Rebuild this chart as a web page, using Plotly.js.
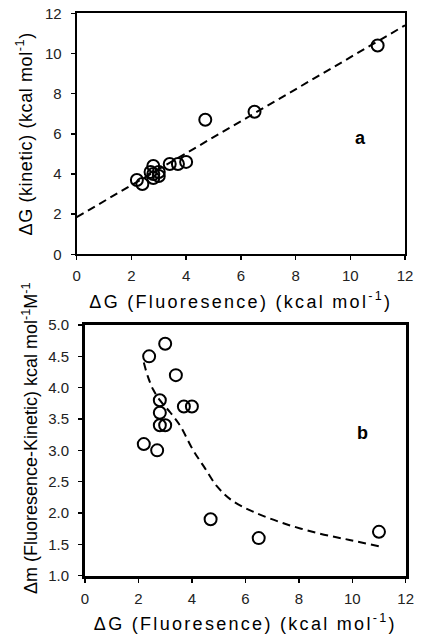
<!DOCTYPE html>
<html>
<head>
<meta charset="utf-8">
<script src="https://cdn.plot.ly/plotly-3.0.1.min.js"></script>
<style>
html,body{margin:0;padding:0;background:#fff;}
#chart{width:421px;height:642px;}
#chart .xtitle, #chart .x2title{letter-spacing:2.3px;}
#chart .ytitle{letter-spacing:0.6px;}
#chart .y2title{translate:0px -12px;}
</style>
</head>
<body>
<div id="chart"></div>
<script>
// Panel a: ΔG kinetic vs ΔG fluorescence
const fluorA = [2.2, 2.4, 2.7, 2.8, 2.8, 2.8, 3.0, 3.0, 3.4, 3.7, 4.0, 4.7, 6.5, 11.0];
const kineticA = [3.7, 3.5, 4.1, 4.4, 4.0, 3.8, 4.1, 3.9, 4.5, 4.5, 4.6, 6.7, 7.1, 10.4];
const fitAx = [0, 12];
const fitAy = [1.85, 11.4];

// Panel b: Δm (Fluorescence - Kinetic) vs ΔG fluorescence
const fluorB = [2.2, 2.4, 2.7, 2.8, 2.8, 2.8, 3.0, 3.0, 3.4, 3.7, 4.0, 4.7, 6.5, 11.0];
const dmB = [3.1, 4.5, 3.0, 3.8, 3.6, 3.4, 3.4, 4.7, 4.2, 3.7, 3.7, 1.9, 1.6, 1.7];
const curveBx = [2.2, 2.35, 2.55, 2.8, 3.2, 3.55, 4.05, 4.45, 4.95, 5.5, 6.3, 7.4, 8.7, 9.9, 11.0];
const curveBy = [4.4, 4.18, 3.97, 3.80, 3.6, 3.4, 3.0, 2.74, 2.42, 2.2, 2.02, 1.84, 1.68, 1.57, 1.47];

const xTitle = 'ΔG (Fluoresence) (kcal mol<sup>-1</sup>)';
const yTitleA = 'ΔG (kinetic) (kcal mol<sup>-1</sup>)';
const yTitleB = 'Δm (Fluoresence-Kinetic) kcal mol<sup>-1</sup>M<sup>-1</sup>';
const panelLabels = ['a', 'b'];

const W = 421, H = 642;
const font = 'Liberation Sans, Arial, sans-serif';

const markerStyle = {symbol: 'circle-open', size: 12, color: '#000', line: {width: 2, color: '#000'}};
const dashStyle = {color: '#000', width: 2, dash: '8px,5px'};

const traces = [
  {x: fitAx, y: fitAy, type: 'scatter', mode: 'lines', line: dashStyle, xaxis: 'x', yaxis: 'y', hoverinfo: 'skip'},
  {x: fluorA, y: kineticA, type: 'scatter', mode: 'markers', marker: markerStyle, xaxis: 'x', yaxis: 'y'},
  {x: curveBx, y: curveBy, type: 'scatter', mode: 'lines', line: Object.assign({}, dashStyle, {shape: 'spline'}), xaxis: 'x2', yaxis: 'y2', hoverinfo: 'skip'},
  {x: fluorB, y: dmB, type: 'scatter', mode: 'markers', marker: markerStyle, xaxis: 'x2', yaxis: 'y2'}
];

function axisBase(lw) {
  return {
    showgrid: false, zeroline: false, showline: true, mirror: true,
    linecolor: '#000', linewidth: lw,
    ticks: 'outside', ticklen: 4, tickwidth: 1.5, tickcolor: '#000',
    tickfont: {family: font, size: 15, color: '#222'},
    fixedrange: true
  };
}

const layout = {
  width: W, height: H,
  margin: {l: 0, r: 0, t: 0, b: 0},
  paper_bgcolor: '#fff', plot_bgcolor: '#fff',
  showlegend: false,
  font: {family: font, color: '#000'},
  xaxis: Object.assign(axisBase(2), {
    domain: [76.7 / W, 405 / W], range: [0, 12], tick0: 0, dtick: 2, anchor: 'y',
    ticklabelstandoff: 3,
    title: {text: xTitle, font: {family: font, size: 18, color: '#000'}, standoff: 12}
  }),
  yaxis: Object.assign(axisBase(2), {
    domain: [1 - 254.3 / H, 1 - 13.3 / H], range: [0, 12], tick0: 0, dtick: 2, anchor: 'x',
    ticklabelstandoff: 6,
    title: {text: yTitleA, font: {family: font, size: 18, color: '#000'}, standoff: 8}
  }),
  xaxis2: Object.assign(axisBase(3), {
    domain: [85 / W, 405.7 / W], range: [0, 12], tick0: 0, dtick: 2, anchor: 'y2',
    ticklabelstandoff: 3,
    title: {text: xTitle, font: {family: font, size: 18, color: '#000'}, standoff: 12}
  }),
  yaxis2: Object.assign(axisBase(3), {
    domain: [1 - 575.7 / H, 1 - 325 / H], range: [1, 5], tick0: 1, dtick: 0.5, tickformat: '.1f', anchor: 'x2',
    ticklabelstandoff: 6,
    title: {text: yTitleB, font: {family: font, size: 18, color: '#000'}, standoff: 6}
  }),
  annotations: [
    {text: '<b>' + panelLabels[0] + '</b>', x: 10.39, y: 5.8, xref: 'x', yref: 'y', showarrow: false, font: {family: font, size: 18, color: '#000'}},
    {text: '<b>' + panelLabels[1] + '</b>', x: 10.38, y: 3.27, xref: 'x2', yref: 'y2', showarrow: false, font: {family: font, size: 18, color: '#000'}}
  ]
};

Plotly.newPlot('chart', traces, layout, {displayModeBar: false, staticPlot: true});
</script>
</body>
</html>
